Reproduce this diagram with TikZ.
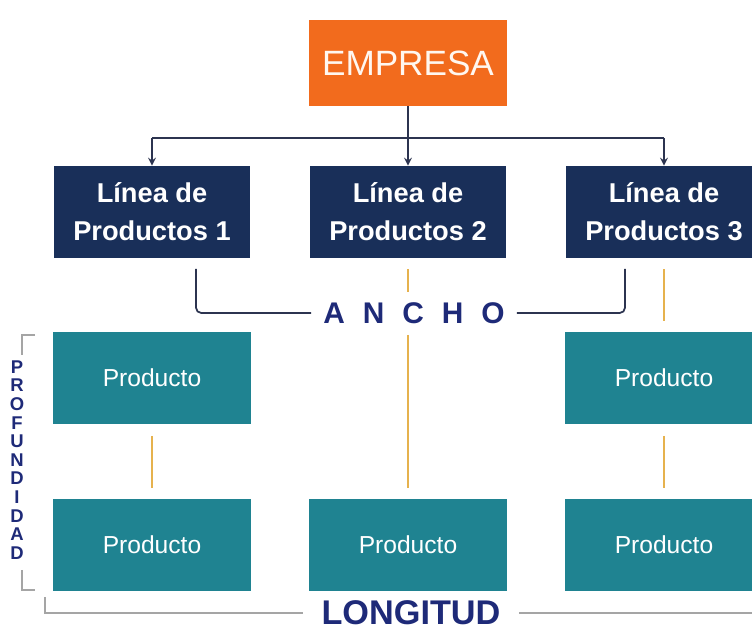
\documentclass[tikz,border=0pt]{standalone}
\usepackage{fontspec}
\setmainfont{Liberation Sans}
\usepackage{tikz}

\definecolor{empresaorange}{HTML}{F26B1D}
\definecolor{lineanavy}{HTML}{192F59}
\definecolor{prodteal}{HTML}{1F8391}
\definecolor{gold}{HTML}{E6B24E}
\definecolor{labelblue}{HTML}{1E2A78}
\definecolor{darkline}{HTML}{2C3450}
\definecolor{greyline}{HTML}{A5A5A5}

\begin{document}
\begin{tikzpicture}[x=0.02cm, y=-0.02cm, >=stealth,
  every node/.style={font=\fontsize{14}{17}\selectfont},
  empresa/.style={fill=empresaorange, text=white!94!orange, minimum width=3.96cm, minimum height=1.72cm, font=\fontsize{20}{24}\selectfont},
  linea/.style={fill=lineanavy, text=white, minimum width=3.92cm, minimum height=1.84cm, align=center, font=\fontsize{15.5}{21.5}\selectfont\bfseries},
  producto/.style={fill=prodteal, text=white, minimum width=3.96cm, minimum height=1.86cm, font=\fontsize{14}{17}\selectfont},
  conn/.style={draw=darkline, line width=1pt},
  vline/.style={draw=gold, line width=1.3pt, shorten <=0.22cm, shorten >=0.2cm},
  dbracket/.style={draw=darkline, line width=1pt, rounded corners=3pt},
  gbracket/.style={draw=greyline, line width=1pt}]
\useasboundingbox (0,0) rectangle (752,631);

\node[empresa] (empresa) at (408,63) {EMPRESA};
\node[linea] (linea1) at (152,212) {Línea de\\Productos 1};
\node[linea] (linea2) at (408,212) {Línea de\\Productos 2};
\node[linea] (linea3) at (664,212) {Línea de\\Productos 3};

\node[producto] (prod11) at (152,378) {Producto};
\node[producto] (prod13) at (664,378) {Producto};
\node[producto] (prod21) at (152,545) {Producto};
\node[producto] (prod22) at (408,545) {Producto};
\node[producto] (prod23) at (664,545) {Producto};

\coordinate (bus) at (408,138);
\draw[conn] (empresa) -- (bus);
\draw[conn] (linea1 |- bus) -- (linea3 |- bus);
\draw[conn,->] (linea1 |- bus) -- (linea1.north);
\draw[conn,->] (bus) -- (linea2.north);
\draw[conn,->] (linea3 |- bus) -- (linea3.north);

\node[text=labelblue, inner xsep=0.24cm, inner ysep=0pt, font=\fontsize{17}{20}\selectfont\bfseries] (ancho) at (414,313)
  {A\hspace{.6em}N\hspace{.6em}C\hspace{.6em}H\hspace{.6em}O};
\coordinate (ancholeft) at (196,269);
\coordinate (anchoright) at (625,269);
\draw[dbracket] (ancholeft) |- (ancho.west);
\draw[dbracket] (ancho.east) -| (anchoright);

\draw[vline] (linea2.south) -- (linea2 |- ancho.north);
\draw[vline] (linea2 |- ancho.south) -- (prod22.north);
\draw[vline] (linea3) -- (prod13);
\draw[vline] (prod11) -- (prod21);
\draw[vline] (prod13) -- (prod23);

\node[text=labelblue, align=center, inner sep=0pt, font=\fontsize{10.5}{10.6}\selectfont\bfseries] (prof) at (17,460)
  {P\\R\\O\\F\\U\\N\\D\\I\\D\\A\\D};
\draw[gbracket] (35,335) -| (22,355);
\draw[gbracket] (22,570) |- (35,590);

\node[text=labelblue, inner xsep=0.36cm, inner ysep=0pt, font=\fontsize{19.5}{23}\selectfont\bfseries] (longitud) at (411,613) {LONGITUD};
\coordinate (longleft) at (45,597);
\coordinate (longright) at (760,613);
\draw[gbracket] (longleft) |- (longitud.west);
\draw[gbracket] (longitud.east) -- (longright);
\end{tikzpicture}
\end{document}
